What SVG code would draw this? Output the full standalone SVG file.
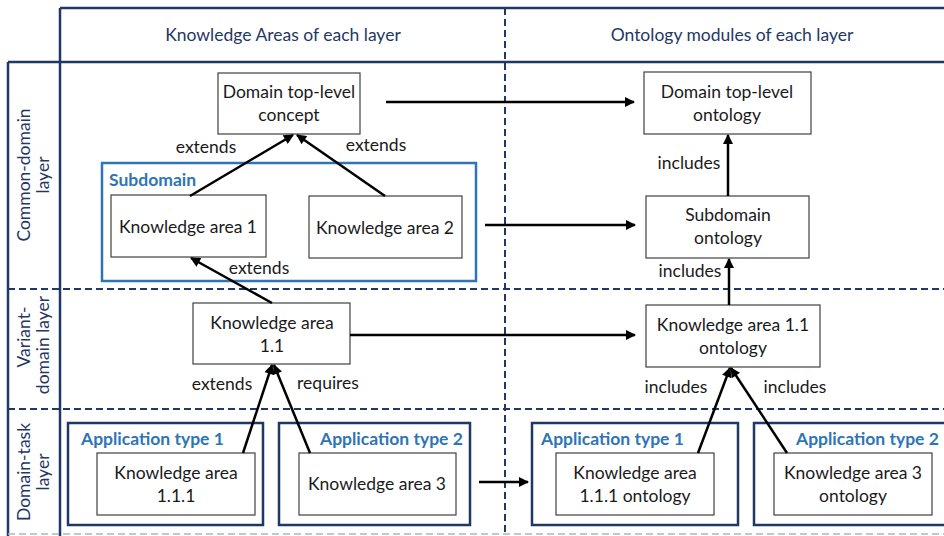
<svg xmlns="http://www.w3.org/2000/svg" width="944" height="536" viewBox="0 0 944 536">
<style>
text{font-family:Lato,"Open Sans","Liberation Sans",sans-serif;font-size:17.5px;fill:#1a1a1a}
.hdr{fill:#1f3864}
.row{fill:#1f3864}
.node{fill:#fff;stroke:#404040;stroke-width:1.2}
.app{fill:none;stroke:#1f3864;stroke-width:2.5}
.sub{fill:none;stroke:#2e75b6;stroke-width:2.5}
.blue{fill:#2e75b6;font-weight:bold}
.frame{stroke:#1f3864;stroke-width:2.5;fill:none}
.dash{stroke:#1f3864;stroke-width:2;stroke-dasharray:7,4;fill:none}
.edge{stroke:#000;stroke-width:2.5;fill:none;marker-end:url(#ah)}
.c{text-anchor:middle}
</style>
<defs>
<marker id="ah" viewBox="0 0 10 10" refX="9" refY="5" markerWidth="4.4" markerHeight="4" orient="auto" markerUnits="strokeWidth">
<path d="M0,0 L10,5 L0,10 z" fill="#000"/>
</marker>
</defs>
<g id="frame">
<line class="frame" x1="60" y1="8" x2="944" y2="8"/>
<line class="frame" x1="60" y1="8" x2="60" y2="536"/>
<line class="frame" x1="8" y1="62" x2="944" y2="62"/>
<line class="frame" x1="8" y1="62" x2="8" y2="536"/>
<line class="dash" x1="505" y1="8" x2="505" y2="536"/>
<line class="dash" x1="8" y1="289" x2="944" y2="289"/>
<line class="dash" x1="8" y1="409" x2="944" y2="409"/>
<line x1="8" y1="534" x2="944" y2="534" stroke="#a9b6c8" stroke-width="1.5" stroke-dasharray="7,4"/>
<text class="hdr c" x="283" y="41">Knowledge Areas of each layer</text>
<text class="hdr c" x="732" y="41">Ontology modules of each layer</text>
<text class="row c" transform="translate(30,175) rotate(-90)">Common-domain</text>
<text class="row c" transform="translate(49,175) rotate(-90)">layer</text>
<text class="row c" transform="translate(30,337) rotate(-90)">Variant-</text>
<text class="row c" transform="translate(49,345) rotate(-90)">domain layer</text>
<text class="row c" transform="translate(30,472) rotate(-90)">Domain-task</text>
<text class="row c" transform="translate(49,472) rotate(-90)">layer</text>
</g>
<g id="subdomain">
<rect class="sub" x="102" y="163" width="374" height="118"/>
<text class="blue" x="109" y="186">Subdomain</text>
</g>
<g id="app1-left">
<rect class="app" x="68" y="423" width="195" height="102"/>
<text class="blue" x="81" y="445">Application type 1</text>
</g>
<g id="app2-left">
<rect class="app" x="279" y="423" width="191" height="102"/>
<text class="blue" x="320" y="445">Application type 2</text>
</g>
<g id="app1-right">
<rect class="app" x="532" y="423" width="206" height="102"/>
<text class="blue" x="541" y="445">Application type 1</text>
</g>
<g id="app2-right">
<rect class="app" x="754" y="423" width="200" height="102"/>
<text class="blue" x="796" y="445">Application type 2</text>
</g>
<g id="domain-concept">
<rect class="node" x="218" y="73" width="142" height="61"/>
<text class="c" x="289" y="98">Domain top-level</text>
<text class="c" x="289" y="121">concept</text>
</g>
<g id="domain-ontology">
<rect class="node" x="644" y="72" width="167" height="62"/>
<text class="c" x="727" y="98">Domain top-level</text>
<text class="c" x="727" y="121">ontology</text>
</g>
<g id="ka1">
<rect class="node" x="111" y="195" width="155" height="62"/>
<text class="c" x="188" y="233">Knowledge area 1</text>
</g>
<g id="ka2">
<rect class="node" x="309" y="196" width="153" height="62"/>
<text class="c" x="385" y="234">Knowledge area 2</text>
</g>
<g id="subdomain-ontology">
<rect class="node" x="646" y="196" width="163" height="62"/>
<text class="c" x="728" y="221">Subdomain</text>
<text class="c" x="728" y="244">ontology</text>
</g>
<g id="ka11">
<rect class="node" x="193" y="303" width="157" height="61"/>
<text class="c" x="272" y="329">Knowledge area</text>
<text class="c" x="272" y="352">1.1</text>
</g>
<g id="ka11-ontology">
<rect class="node" x="646" y="305" width="174" height="62"/>
<text class="c" x="733" y="331">Knowledge area 1.1</text>
<text class="c" x="733" y="354">ontology</text>
</g>
<g id="ka111">
<rect class="node" x="97" y="453" width="158" height="62"/>
<text class="c" x="176" y="479">Knowledge area</text>
<text class="c" x="176" y="502">1.1.1</text>
</g>
<g id="ka3">
<rect class="node" x="299" y="453" width="157" height="62"/>
<text class="c" x="377" y="490">Knowledge area 3</text>
</g>
<g id="ka111-ontology">
<rect class="node" x="556" y="453" width="158" height="62"/>
<text class="c" x="635" y="479">Knowledge area</text>
<text class="c" x="635" y="502">1.1.1 ontology</text>
</g>
<g id="ka3-ontology">
<rect class="node" x="774" y="453" width="158" height="62"/>
<text class="c" x="853" y="479">Knowledge area 3</text>
<text class="c" x="853" y="502">ontology</text>
</g>
<g id="connectors">
<line class="edge" x1="386" y1="102" x2="634" y2="102"/>
<line class="edge" x1="485" y1="225" x2="635" y2="225"/>
<line class="edge" x1="350" y1="335" x2="635" y2="335"/>
<line class="edge" x1="479" y1="482" x2="528" y2="482"/>
<line class="edge" x1="190" y1="196" x2="293" y2="135"/>
<line class="edge" x1="385" y1="196" x2="297" y2="135"/>
<line class="edge" x1="272" y1="303" x2="191" y2="258"/>
<line class="edge" x1="243" y1="453" x2="272" y2="365"/>
<line class="edge" x1="310" y1="453" x2="274" y2="365"/>
<line class="edge" x1="728" y1="196" x2="728" y2="135"/>
<line class="edge" x1="729" y1="305" x2="729" y2="259"/>
<line class="edge" x1="698" y1="453" x2="730" y2="368"/>
<line class="edge" x1="787" y1="453" x2="731" y2="368"/>
<text class="c" x="206" y="153">extends</text>
<text class="c" x="376" y="151">extends</text>
<text class="c" x="259" y="274">extends</text>
<text class="c" x="222" y="390">extends</text>
<text class="c" x="328" y="389">requires</text>
<text class="c" x="689" y="169">includes</text>
<text class="c" x="690" y="277">includes</text>
<text class="c" x="676" y="393">includes</text>
<text class="c" x="795" y="393">includes</text>
</g>
</svg>
